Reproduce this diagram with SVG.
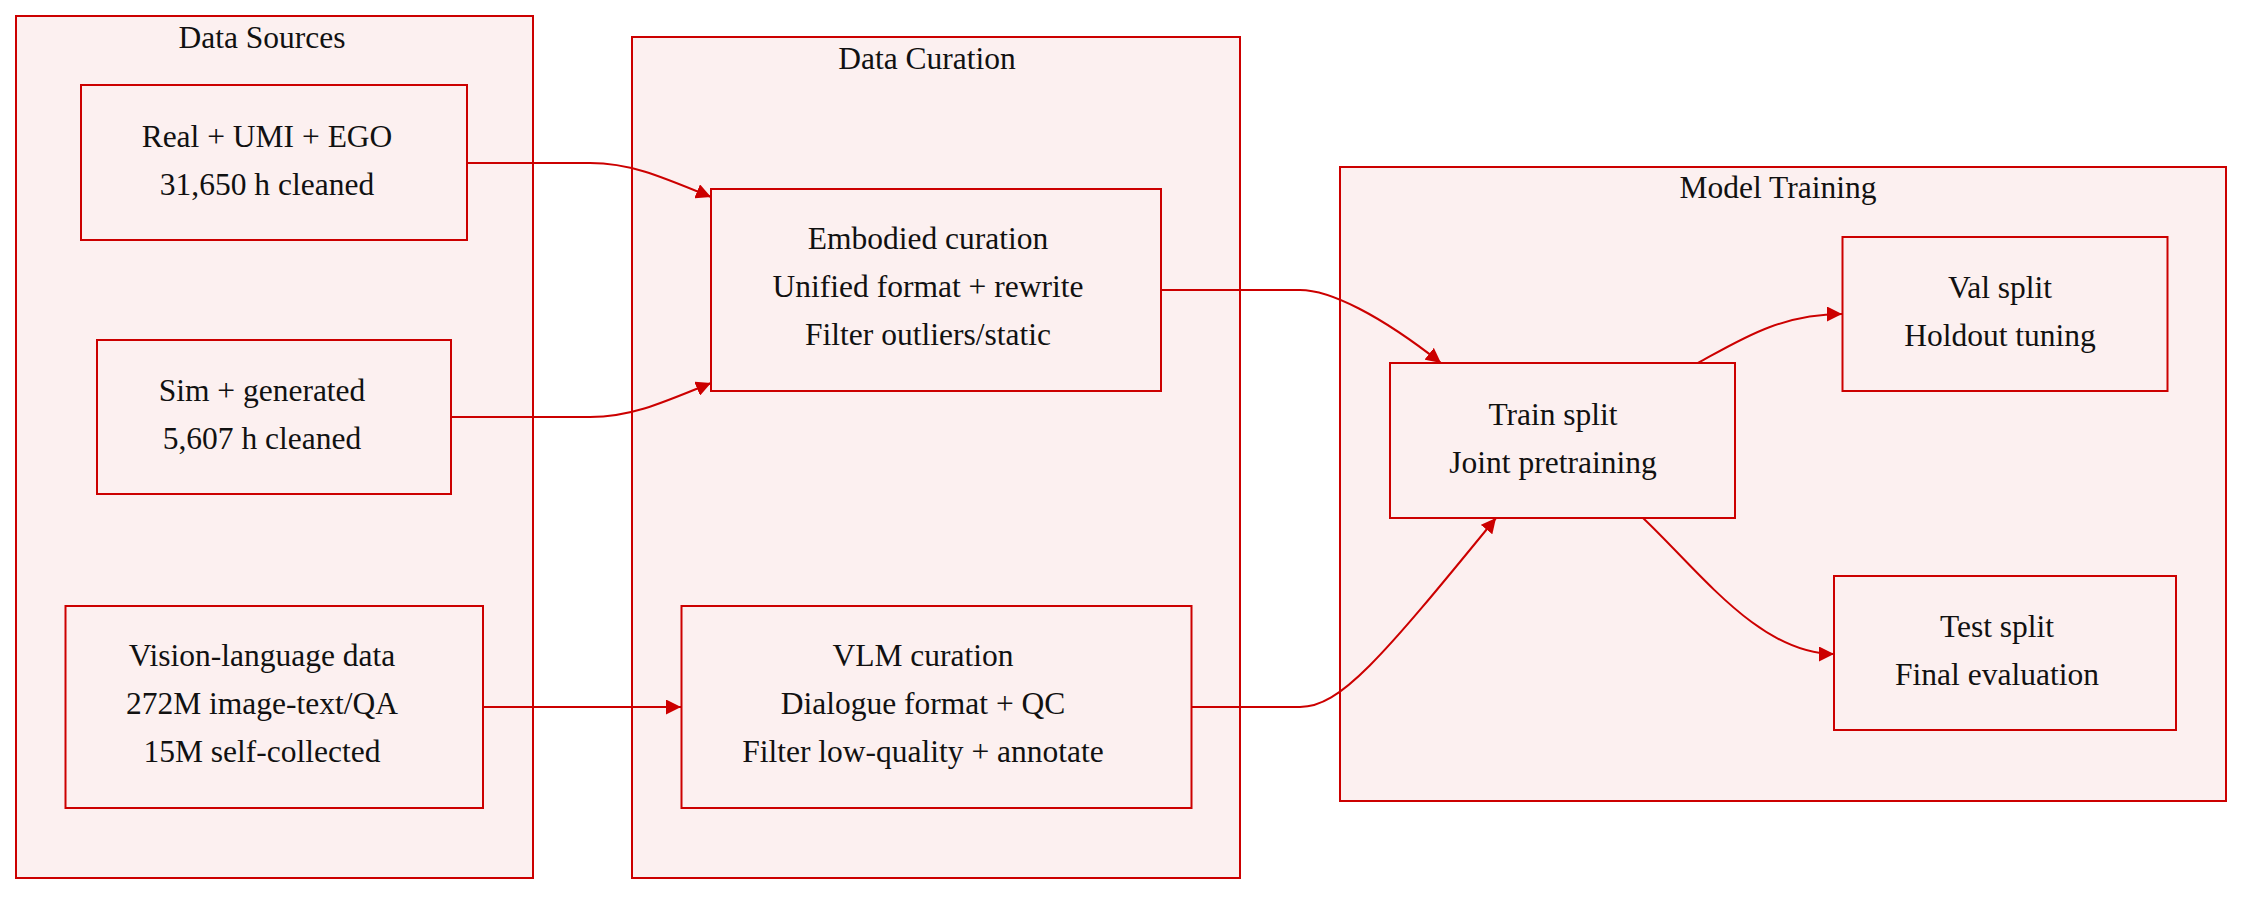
<svg xmlns="http://www.w3.org/2000/svg" width="2258" height="900" viewBox="0 0 2258 900">
<style>
.cluster rect{fill:#fcf0f0;stroke:#cc0000;stroke-width:2}
.node rect{fill:#fcf0f0;stroke:#cc0000;stroke-width:2}
text{font-family:"Liberation Serif","Times New Roman",serif;font-size:31.5px;fill:#111;text-anchor:middle}
.edge{fill:none;stroke:#cc0000;stroke-width:2}
</style>
<defs>
<marker id="arrow" viewBox="0 0 10 10" refX="10" refY="5" markerWidth="15" markerHeight="15" markerUnits="userSpaceOnUse" orient="auto">
<path d="M0,0 L10,5 L0,10 z" fill="#cc0000"/>
</marker>
</defs>
<rect width="2258" height="900" fill="#ffffff"/>
<g id="cluster-sources" class="cluster">
<rect x="16" y="16" width="517" height="862"/>
<text x="262" y="48">Data Sources</text>
</g>
<g id="cluster-curation" class="cluster">
<rect x="632" y="37" width="608" height="841"/>
<text x="927" y="69">Data Curation</text>
</g>
<g id="cluster-training" class="cluster">
<rect x="1340" y="167" width="886" height="634"/>
<text x="1778" y="198">Model Training</text>
</g>
<g id="edges">
<path class="edge" d="M467,163 L590,163 C630,163 660,176 711,197" marker-end="url(#arrow)"/>
<path class="edge" d="M451,417 L590,417 C630,417 660,404 711,383" marker-end="url(#arrow)"/>
<path class="edge" d="M483,707 L681,707" marker-end="url(#arrow)"/>
<path class="edge" d="M1161,290 L1300,290 C1330,290 1380,315 1441,363" marker-end="url(#arrow)"/>
<path class="edge" d="M1191,707 L1300,707 C1340,707 1380,660 1496,518" marker-end="url(#arrow)"/>
<path class="edge" d="M1698,363 C1740,340 1780,314 1842,314" marker-end="url(#arrow)"/>
<path class="edge" d="M1643,518 C1700,572 1760,654 1834,654" marker-end="url(#arrow)"/>
</g>
<g id="node-real" class="node">
<rect x="81" y="85" width="386" height="155"/>
<text x="267" y="147">Real + UMI + EGO</text>
<text x="267" y="195">31,650 h cleaned</text>
</g>
<g id="node-sim" class="node">
<rect x="97" y="340" width="354" height="154"/>
<text x="262" y="401">Sim + generated</text>
<text x="262" y="449">5,607 h cleaned</text>
</g>
<g id="node-vl" class="node">
<rect x="65.5" y="606" width="417.5" height="202"/>
<text x="262" y="666">Vision-language data</text>
<text x="262" y="714">272M image-text/QA</text>
<text x="262" y="762">15M self-collected</text>
</g>
<g id="node-embodied" class="node">
<rect x="711" y="189" width="450" height="202"/>
<text x="928" y="249">Embodied curation</text>
<text x="928" y="297">Unified format + rewrite</text>
<text x="928" y="345">Filter outliers/static</text>
</g>
<g id="node-vlm" class="node">
<rect x="681.5" y="606" width="510" height="202"/>
<text x="923" y="666">VLM curation</text>
<text x="923" y="714">Dialogue format + QC</text>
<text x="923" y="762">Filter low-quality + annotate</text>
</g>
<g id="node-train" class="node">
<rect x="1390" y="363" width="345" height="155"/>
<text x="1553" y="425">Train split</text>
<text x="1553" y="473">Joint pretraining</text>
</g>
<g id="node-val" class="node">
<rect x="1842.5" y="237" width="325" height="154"/>
<text x="2000" y="298">Val split</text>
<text x="2000" y="346">Holdout tuning</text>
</g>
<g id="node-test" class="node">
<rect x="1834" y="576" width="342" height="154"/>
<text x="1997" y="637">Test split</text>
<text x="1997" y="685">Final evaluation</text>
</g>
</svg>
